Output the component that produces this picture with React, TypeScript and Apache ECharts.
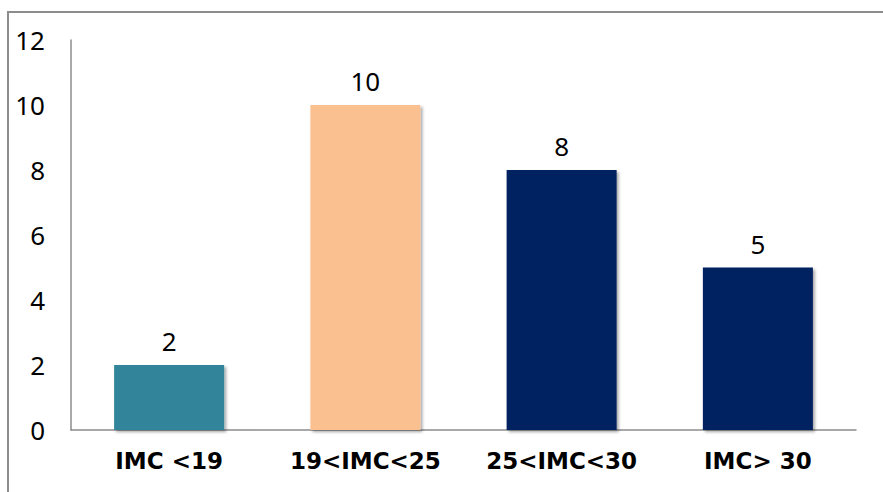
import React, { useEffect, useRef } from "react";
import * as echarts from "echarts";

const categories = ["IMC <19", "19<IMC<25", "25<IMC<30", "IMC> 30"];
const values = [2, 10, 8, 5];
const barColors = ["#31849B", "#FAC090", "#002060", "#002060"];
const yTicks = { min: 0, max: 12, interval: 2 };

const FONT = "'Noto Sans', 'DejaVu Sans', sans-serif";
const BOLD_FONT = "'DejaVu Sans', sans-serif";

export default function App() {
  const ref = useRef<HTMLDivElement>(null);

  useEffect(() => {
    if (!ref.current) return;
    const chart = echarts.init(ref.current, undefined, { renderer: "svg" });
    chart.setOption({
      animation: false,
      backgroundColor: "#ffffff",
      graphic: [
        {
          type: "rect",
          shape: { x: 8, y: 12, width: 900, height: 500 },
          style: { fill: "none", stroke: "#8c8c8c", lineWidth: 2 },
          silent: true,
        },
      ],
      grid: { left: 71, right: 27, top: 40, bottom: 62, containLabel: false },
      xAxis: {
        type: "category",
        data: categories,
        axisLine: { lineStyle: { color: "#8c8c8c", width: 1.5 } },
        axisTick: { show: false },
        axisLabel: {
          color: "#000",
          fontFamily: BOLD_FONT,
          fontWeight: "bold",
          fontSize: 23,
          margin: 19,
        },
      },
      yAxis: {
        type: "value",
        min: yTicks.min,
        max: yTicks.max,
        interval: yTicks.interval,
        axisLine: { show: true, lineStyle: { color: "#8c8c8c", width: 1.5 } },
        axisTick: { show: false },
        splitLine: { show: false },
        axisLabel: {
          color: "#000",
          fontFamily: FONT,
          fontSize: 26,
          margin: 26,
        },
      },
      series: [
        {
          type: "bar",
          barWidth: 110,
          data: values.map((v, i) => ({
            value: v,
            itemStyle: {
              color: barColors[i],
              shadowColor: "rgba(0,0,0,0.35)",
              shadowBlur: 3,
              shadowOffsetX: 2,
              shadowOffsetY: 2,
            },
          })),
          label: {
            show: true,
            position: "top",
            distance: 11,
            color: "#000",
            fontFamily: FONT,
            fontSize: 26,
          },
        },
      ],
    });
    return () => chart.dispose();
  }, []);

  return (
    <div
      ref={ref}
      style={{ position: "absolute", left: 0, top: 0, width: 883, height: 492 }}
    />
  );
}
